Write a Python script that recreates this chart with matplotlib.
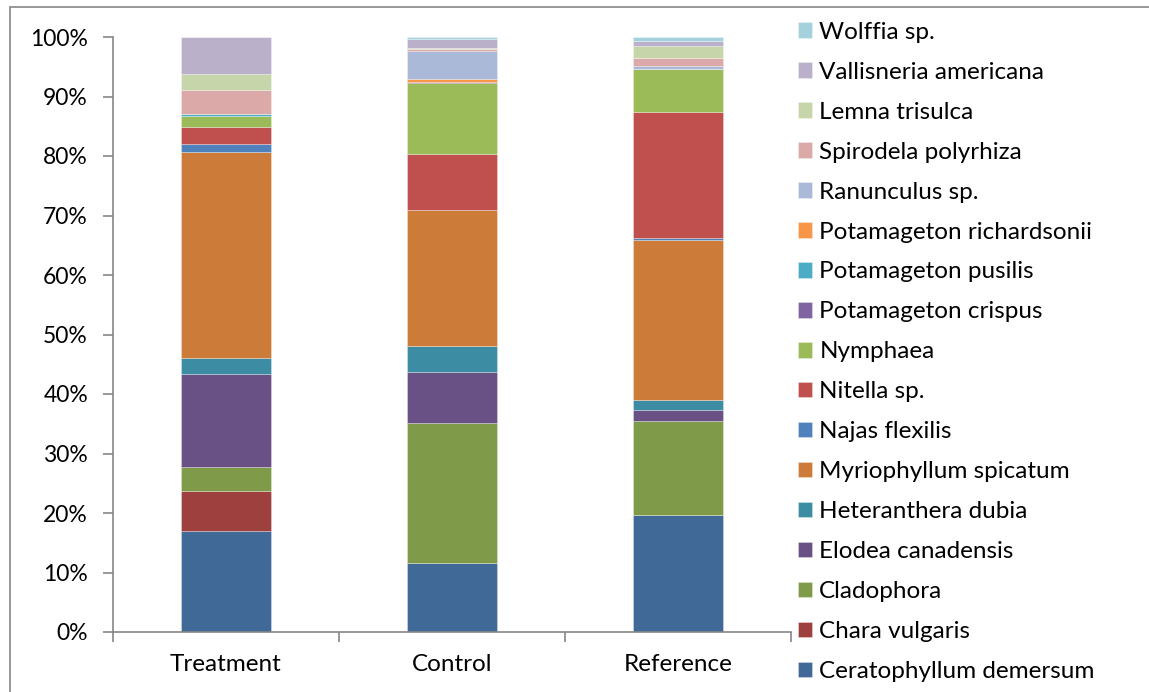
import numpy as np
import matplotlib
matplotlib.use("Agg")
from matplotlib import pyplot as plt
from matplotlib.patches import Rectangle

plt.rcParams["font.family"] = ["Lato", "DejaVu Sans"]

sites = ["Treatment", "Control", "Reference"]

species = [
    "Ceratophyllum demersum",
    "Chara vulgaris",
    "Cladophora",
    "Elodea canadensis",
    "Heteranthera dubia",
    "Myriophyllum spicatum",
    "Najas flexilis",
    "Nitella sp.",
    "Nymphaea",
    "Potamageton crispus",
    "Potamageton pusilis",
    "Potamageton richardsonii",
    "Ranunculus sp.",
    "Spirodela polyrhiza",
    "Lemna trisulca",
    "Vallisneria americana",
    "Wolffia sp.",
]

# percent composition per site (Treatment, Control, Reference)
ceratophyllum = [17.0, 11.6, 19.6]
chara = [6.7, 0.0, 0.0]
cladophora = [4.0, 23.6, 15.9]
elodea = [15.7, 8.5, 1.9]
heteranthera = [2.7, 4.3, 1.6]
myriophyllum = [34.5, 22.9, 27.0]
najas = [1.5, 0.0, 0.3]
nitella = [2.8, 9.5, 21.1]
nymphaea = [1.9, 11.8, 7.3]
p_crispus = [0.0, 0.2, 0.0]
p_pusilis = [0.3, 0.0, 0.0]
p_richardsonii = [0.0, 0.6, 0.0]
ranunculus = [0.0, 4.6, 0.5]
spirodela = [4.0, 0.3, 1.4]
lemna = [2.6, 0.3, 2.0]
vallisneria = [6.3, 1.5, 0.9]
wolffia = [0.0, 0.3, 0.6]

values = [ceratophyllum, chara, cladophora, elodea, heteranthera, myriophyllum,
          najas, nitella, nymphaea, p_crispus, p_pusilis, p_richardsonii,
          ranunculus, spirodela, lemna, vallisneria, wolffia]

colors = ["#416998", "#9E413E", "#7F9A48", "#695185", "#3C8DA3", "#CC7B38",
          "#4F81BD", "#C0504D", "#9BBB59", "#8064A2", "#4BACC6", "#F79646",
          "#AAB9D7", "#DBA9A8", "#C7D5AA", "#BAB0C9", "#A5D1DC"]

data = np.array(values, dtype=float)
data = data / data.sum(axis=0) * 100.0

fig = plt.figure(figsize=(11.49, 6.92), dpi=100)
ax = fig.add_axes([113 / 1149, 1 - 632 / 692, (791 - 113) / 1149, (632 - 37) / 692])

x = np.arange(len(sites))
bottom = np.zeros(len(sites))
handles = []
for name, vals, col in zip(species, data, colors):
    b = ax.bar(x, vals, width=0.4, bottom=bottom, color=col,
               edgecolor=(1, 1, 1, 0.35), linewidth=0.6, label=name)
    handles.append(b)
    bottom += vals

ax.set_xlim(-0.5, 2.5)
ax.set_ylim(0, 100)
ax.set_yticks(np.arange(0, 101, 10))
ax.set_yticklabels([f"{v}%" for v in range(0, 101, 10)])
ax.set_xticks(x)
ax.set_xticklabels(sites)
ax.set_xticks([-0.5, 0.5, 1.5, 2.5], minor=True)

for side in ["top", "right"]:
    ax.spines[side].set_visible(False)
for side in ["left", "bottom"]:
    ax.spines[side].set_color("#868686")
    ax.spines[side].set_linewidth(1.2)

ax.tick_params(axis="y", length=7, width=1.2, color="#868686", labelsize=16.5, pad=11)
ax.tick_params(axis="x", which="major", length=0, labelsize=17.5, pad=16)
ax.tick_params(axis="x", which="minor", length=7, width=1.2, color="#868686")

leg = fig.legend(handles[::-1], species[::-1], loc="upper left",
                 bbox_to_anchor=(788 / 1149, 1 - 12 / 692), frameon=False,
                 fontsize=17.5, handlelength=0.6, handleheight=0.6,
                 handletextpad=0.29, labelspacing=0.78, borderaxespad=0)

# outer frame around the chart area
fig.patches.append(Rectangle((10 / 1149, -0.05), 1.2, 1 - 7 / 692 + 0.05,
                             transform=fig.transFigure, fill=False,
                             edgecolor="#868686", linewidth=1.2))

fig.savefig("out.png", dpi=100)
